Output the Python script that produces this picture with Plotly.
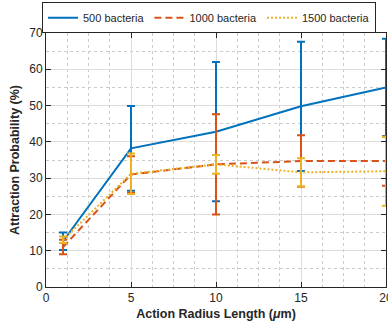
import plotly.graph_objects as go

x_vals = [1, 5, 10, 15, 20]
names = ["500 bacteria", "1000 bacteria", "1500 bacteria"]
mean_500 = [12.6, 38.2, 42.8, 49.8, 55.0]
err_500 = [2.4, 11.7, 19.2, 17.8, 13.4]
mean_1000 = [11.0, 31.0, 33.8, 34.7, 34.7]
err_1000 = [2.0, 5.0, 13.8, 7.1, 6.8]
mean_1500 = [13.0, 31.2, 33.8, 31.6, 31.9]
err_1500 = [0.9, 5.6, 2.6, 3.9, 9.5]

colors = ["#0072BD", "#D95319", "#EDB120"]
dashes = ["solid", "7px,4px", "2px,2px"]
means = [mean_500, mean_1000, mean_1500]
errs = [err_500, err_1000, err_1500]

fig = go.Figure()
for name, m, e, c, d in zip(names, means, errs, colors, dashes):
    fig.add_trace(go.Scatter(
        x=x_vals, y=m, name=name, mode="lines",
        line=dict(color=c, width=2, dash=d),
        error_y=dict(type="data", array=e, visible=True, color=c, thickness=2, width=4),
        cliponaxis=False,
    ))

axis_common = dict(
    showline=True, linecolor="#262626", linewidth=1, mirror="ticks",
    ticks="inside", ticklen=5, tickcolor="#262626",
    showgrid=True, gridcolor="#dcdcdc", gridwidth=1,
    zeroline=False, ticklabeloverflow="allow",
    tickfont=dict(family="Liberation Sans, Arial", size=12, color="#262626"),
)

fig.update_layout(
    width=388, height=328,
    margin=dict(l=46, r=2, t=33, b=41, autoexpand=False),
    paper_bgcolor="white", plot_bgcolor="white",
    font=dict(family="Liberation Sans, Arial", color="#262626"),
    xaxis=dict(range=[0, 20], tickvals=[0, 5, 10, 15, 20],
               minor=dict(dtick=1.25, tick0=0, showgrid=True, griddash="dot", gridcolor="#cccccc", ticks=""),
               title=dict(text="<b>Action Radius Length (<i>μ</i>m)</b>", font=dict(size=12.5, color="#262626"), standoff=4),
               **axis_common),
    yaxis=dict(range=[0, 70], tickvals=list(range(0, 71, 10)),
               minor=dict(dtick=5, tick0=0, showgrid=True, griddash="dot", gridcolor="#cccccc", ticks=""),
               title=dict(text="<b>Attraction Probability (%)</b>", font=dict(size=12.5, color="#262626"), standoff=6),
               **axis_common),
    legend=dict(orientation="h", x=42/388, xanchor="left", xref="container",
                y=0.993, yanchor="top", yref="container",
                bordercolor="#262626", borderwidth=1, bgcolor="white",
                font=dict(size=11, color="#262626"),
                tracegroupgap=0, itemwidth=30),
    showlegend=True,
)

fig.write_html("out.html", config={"displayModeBar": False},
               post_script="document.body.style.margin='0px';document.body.style.overflow='hidden';")
